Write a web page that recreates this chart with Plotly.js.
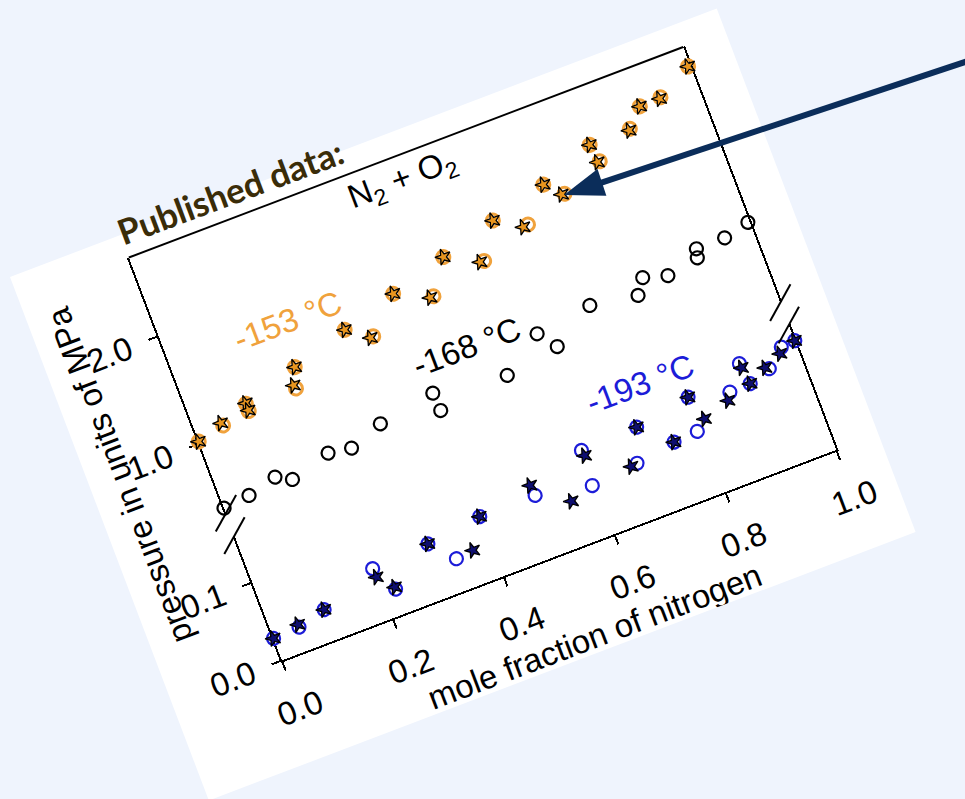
<!DOCTYPE html>
<html><head><meta charset="utf-8">
<script src="https://cdn.plot.ly/plotly-3.0.1.min.js"></script>
<style>
html,body{margin:0;padding:0;background:#eff4fd;width:965px;height:799px;overflow:hidden;}
#card{position:absolute;left:10px;top:277px;width:756px;height:560px;transform-origin:0 0;transform:rotate(-20.8deg);}
#over{position:absolute;left:0;top:0;width:965px;height:799px;pointer-events:none;}
</style></head><body>
<div id="card"></div><div id="over"></div>
<script>
// ---- data (mole fraction of nitrogen, pressure in MPa) ----
const orangeStarX = [0.000,0.046,0.097,0.097,0.196,0.183,0.297,0.333,0.395,0.451,0.496,0.551,0.596,0.640,0.697,0.720,0.794,0.796,0.865,0.896,0.932,0.996];
const orangeStarP = [1.019,1.100,1.185,1.119,1.327,1.183,1.476,1.332,1.620,1.474,1.763,1.609,1.907,1.760,2.043,1.907,2.223,2.058,2.218,2.381,2.382,2.557];
const orangeCircX = [0.000,0.048,0.097,0.097,0.196,0.185,0.297,0.338,0.395,0.457,0.496,0.558,0.596,0.649,0.697,0.725,0.794,0.800,0.867,0.896,0.934,0.996];
const orangeCircP = [1.019,1.074,1.180,1.112,1.327,1.150,1.476,1.335,1.620,1.475,1.763,1.605,1.907,1.766,2.043,1.903,2.223,2.059,2.230,2.381,2.391,2.557];
const blackCircX = [0.000,0.047,0.099,0.125,0.197,0.237,0.297,0.398,0.400,0.526,0.598,0.622,0.698,0.780,0.798,0.839,0.896,0.900,0.951,0.997];
const blackCircP = [0.399,0.425,0.494,0.421,0.525,0.493,0.602,0.689,0.524,0.604,0.850,0.684,0.917,0.850,0.980,0.919,0.973,1.049,1.050,1.105];
const blueCircX = [0.000,0.047,0.097,0.198,0.222,0.300,0.336,0.398,0.498,0.594,0.598,0.678,0.699,0.749,0.798,0.792,0.867,0.899,0.904,0.943,0.975,1.000];
const blueCircP = [0.0283,0.0300,0.0390,0.0642,0.0315,0.0685,0.0397,0.0771,0.0772,0.0639,0.1078,0.0698,0.1104,0.0778,0.1221,0.0799,0.1100,0.1379,0.1109,0.1195,0.1385,0.1400];
const blueStarX = [0.000,0.047,0.097,0.199,0.222,0.300,0.367,0.398,0.496,0.552,0.600,0.667,0.699,0.749,0.798,0.811,0.859,0.900,0.904,0.937,0.969,1.000];
const blueStarP = [0.0283,0.0334,0.0390,0.0531,0.0341,0.0685,0.0421,0.0771,0.0905,0.0552,0.1007,0.0686,0.1104,0.0778,0.1221,0.0908,0.1013,0.1324,0.1109,0.1224,0.1318,0.1400];

const xTickVals = [0,0.2,0.4,0.6,0.8,1.0];
const xTickText = ['0.0','0.2','0.4','0.6','0.8','1.0'];
const yLowTickVals = [0,0.1];
const yLowTickText = ['0.0','0.1'];
const yUpTickVals = [1,2];
const yUpTickText = ['1.0','2.0'];
const seriesLabels = ['-153 °C','-168 °C','-193 °C'];

// ---- styling ----
const ORANGE = '#f0a23c', ORANGE_FILL = '#e8951f', BLUE = '#1c1cd8', NAVY_STAR = '#0e0e70';
const W = 756, H = 560, PL = 118, PR = 45, PT = 24, PB = 105;
const PW = W - PL - PR, PH = H - PT - PB; // 593 x 431
const LOW_TOP = 133.5 / PH, UP_BOT = 157.5 / PH;
const FONT = 'Liberation Sans, Arial, sans-serif';
const FS = 33;

const circ = (x, y, ax, col, lw) => ({x, y, yaxis: ax, type: 'scatter', mode: 'markers', cliponaxis: false, hoverinfo: 'skip',
  marker: {symbol: 'circle-open', size: 13, color: col, line: {width: lw, color: col}}});
const star = (x, y, ax, fill) => ({x, y, yaxis: ax, type: 'scatter', mode: 'markers', cliponaxis: false, hoverinfo: 'skip',
  marker: {symbol: 'star', size: 12, color: fill, line: {width: 1.3, color: 'black'}}});

const traces = [
  circ(orangeCircX, orangeCircP, 'y2', ORANGE, 3),
  star(orangeStarX, orangeStarP, 'y2', ORANGE_FILL),
  circ(blackCircX, blackCircP, 'y2', 'black', 2.2),
  circ(blueCircX, blueCircP, 'y', BLUE, 2.2),
  star(blueStarX, blueStarP, 'y', NAVY_STAR)
];

const axCommon = {ticks: 'outside', ticklen: 9, tickwidth: 2, tickcolor: 'black', showline: true, linewidth: 2,
  linecolor: 'black', showgrid: false, zeroline: false, layer: 'below traces', fixedrange: true,
  tickfont: {family: FONT, size: FS, color: 'black'}};

// break marks (in plot-area pixel units -> paper)
const breaks = [];
[0, PW].forEach(u => [157.5, 133.5].forEach(v => {
  breaks.push({type: 'line', xref: 'paper', yref: 'paper',
    x0: (u - 16) / PW, y0: (v - 13.5) / PH, x1: (u + 16) / PW, y1: (v + 13.5) / PH,
    line: {color: 'black', width: 2}});
}));

const ann = (text, x, y, color, extra) => Object.assign({text, xref: 'paper', yref: 'paper', x, y,
  xanchor: 'center', yanchor: 'middle', showarrow: false, font: {family: FONT, size: FS, color}}, extra || {});

const layout = {
  width: W, height: H, margin: {l: PL, r: PR, t: PT, b: PB, pad: 0},
  paper_bgcolor: 'white', plot_bgcolor: 'rgba(0,0,0,0)', showlegend: false,
  font: {family: FONT, size: FS, color: 'black'},
  xaxis: Object.assign({}, axCommon, {range: [0, 1], tickvals: xTickVals, ticktext: xTickText, anchor: 'y', ticklabelstandoff: 12}),
  yaxis: Object.assign({}, axCommon, {domain: [0, LOW_TOP], range: [0, 133.5 / 834], tickvals: yLowTickVals, ticktext: yLowTickText, anchor: 'x', mirror: true, ticklabelstandoff: 12}),
  yaxis2: Object.assign({}, axCommon, {domain: [UP_BOT, 1], range: [1 - (232 - 157.5) / 115, 2.73], tickvals: yUpTickVals, ticktext: yUpTickText, anchor: 'x', mirror: true, ticklabelstandoff: 12}),
  shapes: [{type: 'line', xref: 'paper', yref: 'paper', x0: 0, y0: 1, x1: 1, y1: 1, line: {color: 'black', width: 2}}].concat(breaks),
  annotations: [
    ann('N<sub>2</sub> + O<sub>2</sub>', 0.478, 0.942, 'black'),
    ann(seriesLabels[0], 0.213, 0.731, ORANGE),
    ann(seriesLabels[1], 0.479, 0.527, 'black'),
    ann(seriesLabels[2], 0.730, 0.305, BLUE),
    ann('pressure in units of MPa', -86 / PW, 0.535, 'black', {textangle: -90}),
    ann('mole fraction of nitrogen', 0.508, -88 / PH, 'black')
  ]
};
Plotly.newPlot('card', traces, layout, {staticPlot: true, displayModeBar: false});

// ---- overlay: label and arrow (page pixel coordinates) ----
const NAVY = '#0b2d5a';
const tip = [564, 195], tail = [975, 58.7];
const len = Math.hypot(tail[0] - tip[0], tail[1] - tip[1]);
const ux = (tail[0] - tip[0]) / len, uy = (tail[1] - tip[1]) / len;
const headL = 40, headW = 14;
const bx = tip[0] + headL * ux, by = tip[1] + headL * uy;
const overLayout = {
  width: 965, height: 799, margin: {l: 0, r: 0, t: 0, b: 0, pad: 0},
  paper_bgcolor: 'rgba(0,0,0,0)', plot_bgcolor: 'rgba(0,0,0,0)', showlegend: false,
  xaxis: {range: [0, 965], visible: false, fixedrange: true},
  yaxis: {range: [799, 0], visible: false, fixedrange: true},
  shapes: [
    {type: 'line', x0: tail[0], y0: tail[1], x1: bx - 2 * ux, y1: by - 2 * uy, line: {color: NAVY, width: 6}},
    {type: 'path', path: `M${tip[0]},${tip[1]} L${bx - headW * uy},${by + headW * ux} L${bx + headW * uy},${by - headW * ux} Z`,
     fillcolor: NAVY, line: {width: 0}}
  ],
  annotations: [{text: '<b>Published data:</b>', x: 230, y: 191, xanchor: 'center', yanchor: 'middle', textangle: -20.5, showarrow: false,
    font: {family: 'Lato, Open Sans, sans-serif', size: 35, color: '#3a2c08'}}]
};
Plotly.newPlot('over', [], overLayout, {staticPlot: true, displayModeBar: false});
</script>
</body></html>
